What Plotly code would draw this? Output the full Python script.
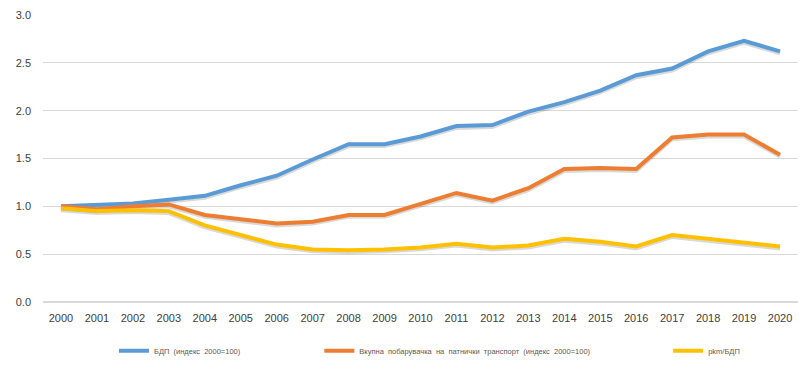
import plotly.graph_objects as go

years = [str(y) for y in range(2000, 2021)]
gdp = [1.00, 1.01, 1.03, 1.07, 1.11, 1.22, 1.32, 1.49, 1.65, 1.65, 1.73, 1.84, 1.85, 1.99, 2.09, 2.21, 2.37, 2.44, 2.62, 2.73, 2.62]
demand = [1.00, 0.97, 1.00, 1.02, 0.91, 0.86, 0.82, 0.84, 0.91, 0.91, 1.02, 1.14, 1.06, 1.19, 1.39, 1.40, 1.39, 1.72, 1.75, 1.75, 1.54]
pkm_gdp = [0.98, 0.95, 0.96, 0.95, 0.80, 0.70, 0.60, 0.55, 0.54, 0.55, 0.57, 0.61, 0.57, 0.59, 0.66, 0.63, 0.58, 0.70, 0.66, 0.63, 0.58]

names = ["БДП  (индекс  2000=100)",
         "Вкупна  побарувачка  на  патнички  транспорт  (индекс  2000=100)",
         "pkm/БДП"]
colors = ["#5B9BD5", "#ED7D31", "#FFC000"]
series = [gdp, demand, pkm_gdp]
legends = ["legend", "legend2", "legend3"]

fig = go.Figure()
# soft shadows
for s in series:
    fig.add_trace(go.Scatter(x=years, y=[v - 0.02 for v in s], mode="lines",
                             line=dict(color="rgba(0,0,0,0.15)", width=4),
                             showlegend=False, hoverinfo="skip"))
for s, n, c, lg in zip(series, names, colors, legends):
    fig.add_trace(go.Scatter(x=years, y=s, mode="lines", name=n,
                             line=dict(color=c, width=4), legend=lg))

leg_common = dict(orientation="h", yanchor="middle", y=-0.17, xanchor="left",
                  font=dict(size=7.5, color="#595959", family="Liberation Sans"),
                  bgcolor="rgba(0,0,0,0)")
fig.update_layout(
    width=805, height=378,
    margin=dict(l=43, r=7, t=15, b=76),
    paper_bgcolor="white", plot_bgcolor="white",
    font=dict(family="Liberation Sans", size=11, color="#595959"),
    legend=dict(x=0.094, **leg_common),
    legend2=dict(x=0.366, **leg_common),
    legend3=dict(x=0.828, **leg_common),
    xaxis=dict(type="category", range=[-0.5, 20.5], showgrid=False, ticks="", showline=False,
               ticklabelstandoff=8, tickfont=dict(size=11, color="#404040")),
    yaxis=dict(range=[0, 3.0], dtick=0.5, tickformat=".1f", showgrid=True,
               gridcolor="#D9D9D9", gridwidth=1, zeroline=True, zerolinecolor="#D9D9D9",
               showline=False, ticks="", ticklabelstandoff=11,
               tickfont=dict(size=11, color="#404040")),
)
fig.write_html("out.html", config={"displayModeBar": False},
               post_script="document.body.style.margin='0';")
